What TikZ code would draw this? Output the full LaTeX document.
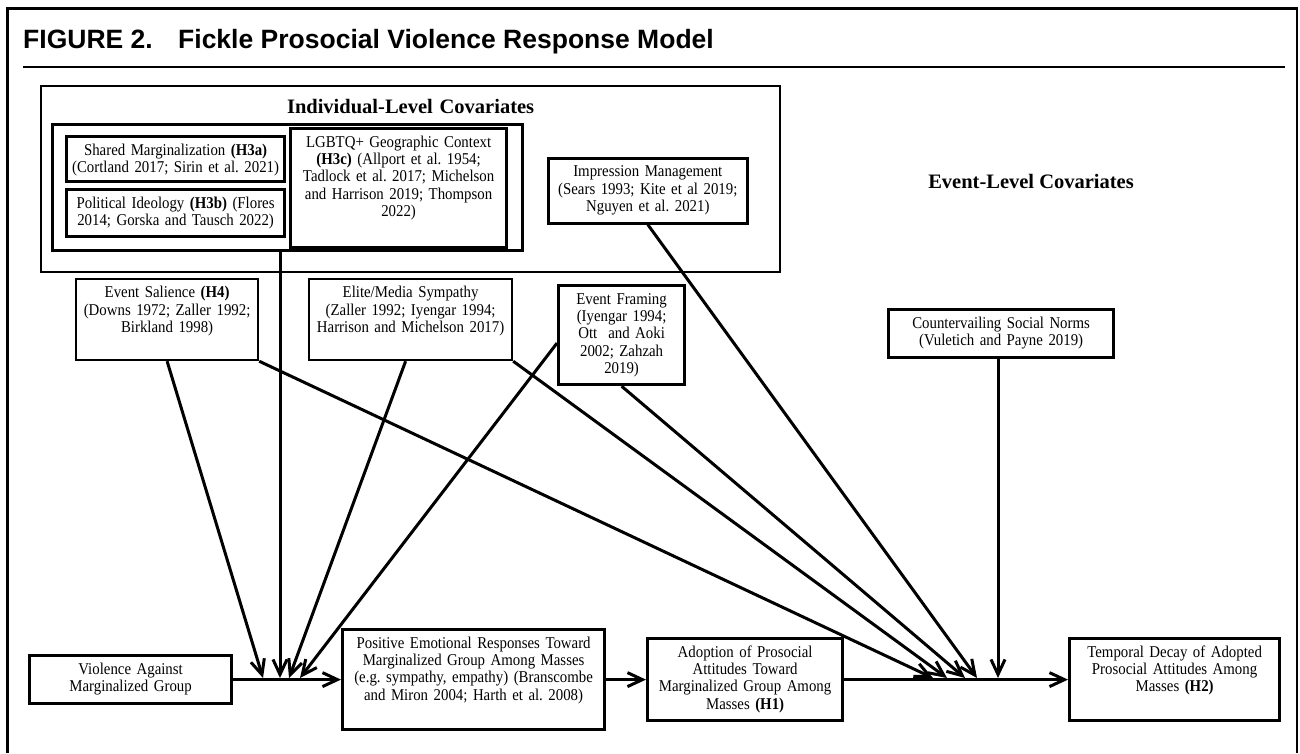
\documentclass[tikz,border=0pt]{standalone}
\usepackage{fontspec}
\setmainfont{Liberation Serif}[FakeStretch=0.9]
\newfontfamily\headfont{Liberation Serif}
\newfontfamily\captionfont{Liberation Sans}
\usetikzlibrary{arrows.meta}
\frenchspacing

\begin{document}
\begin{tikzpicture}[x=1pt, y=-1pt,
  box/.style={draw, inner sep=0pt, anchor=north west, align=center, text height=18.5pt, line width=3.2pt, font=\fontsize{16.5}{17.4}\selectfont},
  thinbox/.style={box, line width=2.2pt},
  arr/.style={-{Straight Barb[length=15pt,width=14pt]}, line width=3pt}]

% Fix the page size
\useasboundingbox (0,0) rectangle (1300,753);

% Draw the open frame and the caption rule
\draw[line width=2.5pt] (7.5,753) -- (7.5,8.5) -- (1297,8.5) -- (1297,753);
\draw[line width=2.5pt] (23,67) -- (1285,67);

% Caption
\node[anchor=base west, inner sep=0pt, font=\captionfont\bfseries\fontsize{26.5}{30}\selectfont] (figlabel) at (23,48) {FIGURE 2.};
\node[anchor=base west, inner sep=0pt, font=\captionfont\bfseries\fontsize{26.5}{30}\selectfont] (figtitle) at (178,48) {Fickle Prosocial Violence Response Model};

% Individual-level covariates
\node[thinbox, text width=739pt, text height=27pt, text depth=159pt, font=\headfont\bfseries\fontsize{20.5}{24}\selectfont] (indiv) at (40,85) {Individual-Level Covariates};
\node[box, text width=470pt, text height=0pt, text depth=126pt] (indivin) at (51,123) {};
\node[box, text width=218pt, text depth=26.5pt] (shared) at (65,135) {Shared Marginalization \textbf{(H3a)}\\(Cortland 2017; Sirin et al. 2021)};
\node[box, text width=218pt, text depth=28.5pt] (ideology) at (65,188) {Political Ideology \textbf{(H3b)} (Flores\\2014; Gorska and Tausch 2022)};
\node[box, text width=216pt, text depth=100.5pt] (geo) at (289,127) {LGBTQ+ Geographic Context\\\textbf{(H3c)} (Allport et al. 1954;\\Tadlock et al. 2017; Michelson\\and Harrison 2019; Thompson\\2022)};
\node[box, line width=2.6pt, text width=199pt, text depth=46.5pt] (impression) at (547,157) {Impression Management\\(Sears 1993; Kite et al 2019;\\Nguyen et al. 2021)};

% Event-level covariates
\node[anchor=base, inner sep=0pt, font=\headfont\bfseries\fontsize{20.5}{24}\selectfont] (eventlevel) at (1031,188) {Event-Level Covariates};
\node[thinbox, text width=182pt, text depth=62.5pt] (salience) at (75,278) {Event Salience \textbf{(H4)}\\(Downs 1972; Zaller 1992;\\Birkland 1998)};
\node[thinbox, text width=203pt, text depth=62.5pt] (elite) at (308,278) {Elite/Media Sympathy\\(Zaller 1992; Iyengar 1994;\\Harrison and Michelson 2017)};
\node[box, text width=126pt, text depth=80.5pt] (framing) at (557,284) {Event Framing\\(Iyengar 1994;\\Ott\ \ and Aoki\\2002; Zahzah\\2019)};
\node[box, text width=225pt, text depth=29.5pt] (norms) at (887,308) {Countervailing Social Norms\\(Vuletich and Payne 2019)};

% Main chain
\node[box, text width=202pt, text depth=29.5pt] (violence) at (28,654) {Violence Against\\Marginalized Group};
\node[box, text width=262pt, text depth=81.5pt] (emotion) at (341,628) {Positive Emotional Responses Toward\\Marginalized Group Among Masses\\(e.g. sympathy, empathy) (Branscombe\\and Miron 2004; Harth et al. 2008)};
\node[box, text width=195pt, text depth=63.5pt] (adoption) at (646,637) {Adoption of Prosocial\\Attitudes Toward\\Marginalized Group Among\\Masses \textbf{(H1)}};
\node[box, text width=210pt, text depth=63.5pt] (decay) at (1068,637) {Temporal Decay of Adopted\\Prosocial Attitudes Among\\Masses \textbf{(H2)}};

% Points where the moderators meet the chain
\coordinate (jsal) at (263,678);
\coordinate (jind) at (280,678);
\coordinate (jeli) at (289,678);
\coordinate (jfra) at (300,678);
\coordinate (ksal) at (933,678);
\coordinate (keli) at (947,678);
\coordinate (kfra) at (965,678);
\coordinate (kimp) at (977,678);
\coordinate (knor) at (998,678);

% Draw the chain
\draw[arr] (violence.east) -- (violence.east -| emotion.west);
\draw[arr] (emotion.east) -- (emotion.east -| adoption.west);
\draw[arr] (adoption.east) -- (adoption.east -| decay.west);

% Draw moderators of the first link
\draw[arr] (salience.south) -- (jsal);
\draw[arr] (indivin.south -| jind) -- (jind);
\draw[arr] ([xshift=-5pt]elite.south) -- (jeli);
\draw[arr] ([yshift=-8pt]framing.west) -- (jfra);

% Draw moderators of the second link
\draw[arr] (salience.south east) -- (ksal);
\draw[arr] (elite.south east) -- (keli);
\draw[arr] (framing.south) -- (kfra);
\draw[arr] (impression.south) -- (kimp);
\draw[arr] (norms.south -| knor) -- (knor);

\end{tikzpicture}
\end{document}
